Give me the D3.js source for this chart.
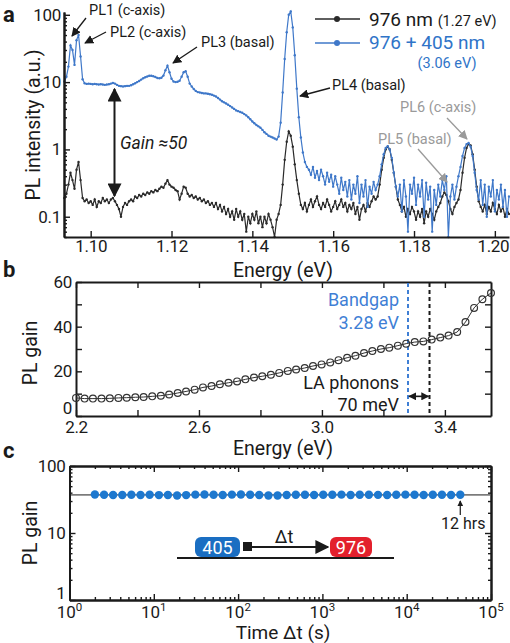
<!DOCTYPE html>
<html>
<head>
<meta charset="utf-8">
<script src="https://cdn.jsdelivr.net/npm/d3@7"></script>
<style>
body { margin: 0; background: #fff; }
svg { display: block; font-family: Roboto, "Noto Sans", sans-serif; }
.axis path, .axis line { stroke: #1a1a1a; }
.axis path { stroke-width: 2; }
.axis line { stroke-width: 1.4; }
.axis text { font-size: 17px; fill: #1a1a1a; font-family: Roboto, sans-serif; letter-spacing: -0.3px; }
</style>
</head>
<body>
<div id="fig"></div>
<script>
// ---- panel a: PL spectra ----
var energyA = [
1.0935,1.094,1.0945,1.095,1.0955,1.096,1.0965,1.097,1.0975,1.098,
1.0985,1.099,1.0995,1.1,1.1005,1.101,1.1015,1.102,1.1025,1.103,
1.1035,1.104,1.1045,1.105,1.1055,1.106,1.1065,1.107,1.1075,1.108,
1.1085,1.109,1.1095,1.11,1.1105,1.111,1.1115,1.112,1.1125,1.113,
1.1135,1.114,1.1145,1.115,1.1155,1.116,1.1165,1.117,1.1175,1.118,
1.1185,1.119,1.1195,1.12,1.1205,1.121,1.1215,1.122,1.1225,1.123,
1.1235,1.124,1.1245,1.125,1.1255,1.126,1.1265,1.127,1.1275,1.128,
1.1285,1.129,1.1295,1.13,1.1305,1.131,1.1315,1.132,1.1325,1.133,
1.1335,1.134,1.1345,1.135,1.1355,1.136,1.1365,1.137,1.1375,1.138,
1.1385,1.139,1.1395,1.14,1.1405,1.141,1.1415,1.142,1.1425,1.143,
1.1435,1.144,1.1445,1.145,1.1455,1.146,1.1465,1.147,1.1475,1.148,
1.1485,1.149,1.1495,1.15,1.1505,1.151,1.1515,1.152,1.1525,1.153,
1.1535,1.154,1.1545,1.155,1.1555,1.156,1.1565,1.157,1.1575,1.158,
1.1585,1.159,1.1595,1.16,1.1605,1.161,1.1615,1.162,1.1625,1.163,
1.1635,1.164,1.1645,1.165,1.1655,1.166,1.1665,1.167,1.1675,1.168,
1.1685,1.169,1.1695,1.17,1.1705,1.171,1.1715,1.172,1.1725,1.173,
1.1735,1.174,1.1745,1.175,1.1755,1.176,1.1765,1.177,1.1775,1.178,
1.1785,1.179,1.1795,1.18,1.1805,1.181,1.1815,1.182,1.1825,1.183,
1.1835,1.184,1.1845,1.185,1.1855,1.186,1.1865,1.187,1.1875,1.188,
1.1885,1.189,1.1895,1.19,1.1905,1.191,1.1915,1.192,1.1925,1.193,
1.1935,1.194,1.1945,1.195,1.1955,1.196,1.1965,1.197,1.1975,1.198,
1.1985,1.199,1.1995,1.2,1.2005,1.201,1.2015,1.202,1.2025,1.203,1.2035];

// 976 nm only
var pl976 = [
0.19,0.22,0.3,0.45,0.35,0.26,0.5,0.65,0.35,0.19,
0.17,0.18,0.16,0.17,0.15,0.18,0.14,0.17,0.16,0.19,
0.17,0.18,0.16,0.18,0.19,0.17,0.15,0.13,0.1,0.14,
0.16,0.15,0.17,0.18,0.17,0.2,0.19,0.21,0.2,0.22,
0.21,0.23,0.22,0.24,0.23,0.25,0.24,0.26,0.28,0.27,
0.31,0.35,0.3,0.28,0.27,0.25,0.24,0.18,0.22,0.28,
0.27,0.22,0.2,0.21,0.19,0.2,0.18,0.19,0.17,0.18,
0.16,0.17,0.15,0.16,0.14,0.16,0.13,0.15,0.12,0.14,
0.11,0.13,0.1,0.12,0.09,0.13,0.1,0.12,0.09,0.11,
0.06,0.1,0.08,0.11,0.09,0.12,0.08,0.1,0.07,0.1,
0.08,0.11,0.09,0.07,0.05,0.09,0.11,0.15,0.3,0.7,
1.3,1.85,1.6,1.1,0.6,0.35,0.22,0.15,0.13,0.16,
0.12,0.15,0.18,0.14,0.17,0.2,0.15,0.13,0.16,0.14,
0.18,0.15,0.12,0.14,0.17,0.13,0.15,0.18,0.14,0.16,
0.12,0.15,0.13,0.16,0.11,0.14,0.09,0.13,0.15,0.12,
0.16,0.14,0.17,0.2,0.18,0.2,0.3,0.5,0.75,1.0,
1.1,1.0,0.7,0.45,0.28,0.18,0.15,0.12,0.14,0.1,
0.13,0.11,0.14,0.12,0.09,0.12,0.1,0.13,0.08,0.12,
0.1,0.13,0.11,0.09,0.12,0.14,0.16,0.2,0.23,0.21,
0.17,0.13,0.11,0.14,0.16,0.18,0.25,0.45,0.75,1.05,
1.2,1.15,0.85,0.5,0.28,0.17,0.14,0.12,0.15,0.11,
0.14,0.12,0.16,0.13,0.11,0.15,0.12,0.14,0.1,0.13,0.11];

// 976 + 405 nm
var pl976405 = [
10.2,12,17,35,30,18,42,50,24,11,
9.6,9.4,9.5,9.4,9.3,9.4,9.3,9.2,9.3,9.2,
9.1,9.2,9.3,9.5,9.7,9.5,9.1,8.8,8.7,8.6,
8.7,8.8,8.8,9.0,9.3,9.6,10.0,10.4,10.9,11.4,
11.8,12.1,12.4,12.4,12.2,11.9,11.5,11.4,11.6,12.5,
15,17.5,14,11.2,10.2,10.0,10.1,10.5,12,14,
14.5,12,9.5,8.6,7.9,7.4,7.1,7.0,6.9,6.8,
6.8,6.7,6.6,6.5,6.3,6.1,5.8,5.5,5.2,5.0,
4.8,4.6,4.4,4.2,4.0,3.8,3.7,3.6,3.5,3.35,
3.2,3.0,2.8,2.6,2.45,2.3,2.2,2.1,1.95,1.8,
1.7,1.6,1.55,1.5,1.45,1.4,1.55,2.5,7,22,
55,100,112,65,25,8,3,1.5,0.9,0.65,
0.55,0.5,0.42,0.55,0.38,0.48,0.35,0.5,0.4,0.3,
0.45,0.33,0.42,0.28,0.4,0.3,0.22,0.38,0.25,0.33,
0.2,0.35,0.18,0.3,0.22,0.4,0.16,0.3,0.2,0.35,
0.14,0.28,0.22,0.33,0.25,0.3,0.4,0.6,0.85,1.05,
1.12,1.0,0.75,0.45,0.28,0.2,0.3,0.12,0.35,0.2,
0.06,0.3,0.22,0.38,0.15,0.3,0.2,0.35,0.1,0.32,
0.18,0.28,0.06,0.25,0.15,0.3,0.2,0.35,0.25,0.4,
0.05,0.2,0.3,0.18,0.28,0.4,0.55,0.8,1.05,1.2,
1.25,1.1,0.8,0.45,0.25,0.18,0.35,0.15,0.3,0.1,
0.28,0.2,0.35,0.12,0.25,0.18,0.3,0.14,0.25,0.1,0.2];

var ticksA = [1.10, 1.12, 1.14, 1.16, 1.18, 1.20];
var decadesA = [0.1, 1, 10, 100];

// ---- panel b: gain vs excitation energy ----
var energyB = [
2.200,2.228,2.255,2.283,2.310,2.338,2.365,2.393,2.420,2.448,
2.476,2.503,2.531,2.558,2.586,2.613,2.641,2.668,2.696,2.724,
2.751,2.779,2.806,2.834,2.861,2.889,2.916,2.944,2.971,2.999,
3.027,3.054,3.082,3.109,3.137,3.164,3.192,3.219,3.247,3.274,
3.302,3.330,3.357,3.385,3.412,3.440,3.467,3.495,3.522,3.550];
var gainB = [
8.1,7.8,7.8,7.8,7.9,8.1,8.2,8.4,8.5,8.8,
9.1,9.6,10.3,11.0,11.8,12.8,13.4,14.2,14.9,15.5,
16.4,17.2,17.8,18.5,19.3,20.2,20.8,21.5,22.4,23.1,
24.0,25.0,26.1,27.0,28.2,29.1,30.0,30.6,31.5,32.4,
33.1,33.4,34.2,35.1,36.0,37.6,42.1,48.4,52.3,55.1];
var ticksB = [2.2, 2.6, 3.0, 3.4];
var bandgap = 3.28;
var phononEnd = 3.35;

// ---- panel c: gain vs delay ----
var timeC = [
2.0,2.57,3.29,4.23,5.42,6.96,8.93,11.5,14.7,18.9,
24.2,31.1,39.9,51.2,65.7,84.4,108,139,178,229,
294,377,484,621,797,1023,1312,1684,2162,2774,
3559,4567,5862,7522,9652,12387,15896,20400,26180,33590,43200];
var gainC = [
37.5,37.2,37.0,37.0,37.2,37.0,37.3,36.8,37.0,36.2,
36.8,37.4,37.5,37.2,37.0,37.4,37.5,37.3,37.0,36.3,
36.2,37.0,37.3,37.2,37.0,37.3,37.2,37.4,37.0,37.2,
37.3,37.1,37.0,37.2,37.4,37.2,37.0,37.3,37.2,37.0,37.3];
var gainLevel = 37;
var decadesC = [1, 10, 100, 1000, 10000, 100000];

var blue = "#3f78c9";
var ink = "#1a1a1a";
var grey = "#9a9a9a";

var svg = d3.select("#fig").append("svg")
  .attr("width", 510)
  .attr("height", 643);

// arrow heads
var defs = svg.append("defs");
function arrowHead(id, color, size) {
  defs.append("marker")
    .attr("id", id)
    .attr("viewBox", "0 0 10 10")
    .attr("refX", 9).attr("refY", 5)
    .attr("markerWidth", size).attr("markerHeight", size)
    .attr("orient", "auto-start-reverse")
    .append("path")
    .attr("d", "M0,0L10,5L0,10z")
    .attr("fill", color);
}
arrowHead("ah", ink, 7);
arrowHead("ahg", grey, 7);
arrowHead("ahs", ink, 5);

function arrow(g, x1, y1, x2, y2, color, id, w) {
  return g.append("line")
    .attr("x1", x1).attr("y1", y1).attr("x2", x2).attr("y2", y2)
    .attr("stroke", color).attr("stroke-width", w || 1.3)
    .attr("marker-end", "url(#" + id + ")");
}

function label(g, x, y, txt, size, color, anchor) {
  return g.append("text")
    .attr("x", x).attr("y", y)
    .attr("font-size", size)
    .attr("fill", color || ink)
    .attr("text-anchor", anchor || "start")
    .text(txt);
}

// panel letters
[["a", 3, 22], ["b", 3, 277], ["c", 3, 458]].forEach(function(p) {
  svg.append("text").attr("x", p[1]).attr("y", p[2])
    .attr("font-size", 22).attr("font-weight", "bold").attr("fill", ink).text(p[0]);
});

// ================= panel a =================
var xA = d3.scaleLinear().domain([1.0934, 1.2035]).range([64, 509]);
var yA = d3.scaleLog().domain([0.05, 110]).range([237, 12]);
var gA = svg.append("g");

var lineA = d3.line()
  .x(function(d) { return xA(d[0]); })
  .y(function(d) { return yA(d[1]); });

var blackPts = energyA.map(function(e, i) { return [e, pl976[i]]; });
var bluePts = energyA.map(function(e, i) { return [e, pl976405[i]]; });

[[blackPts, "#2a2a2a"], [bluePts, blue]].forEach(function(s) {
  gA.append("path").datum(s[0])
    .attr("fill", "none").attr("stroke", s[1]).attr("stroke-width", 1.2)
    .attr("d", lineA);
  gA.selectAll(null).data(s[0]).enter().append("circle")
    .attr("cx", function(d) { return xA(d[0]); })
    .attr("cy", function(d) { return yA(d[1]); })
    .attr("r", 1.2).attr("fill", s[1]);
});

var minorA = yA.ticks().filter(function(v) { return decadesA.indexOf(v) < 0; });
gA.append("g").attr("class", "axis").attr("transform", "translate(64,0)")
  .call(d3.axisLeft(yA).tickValues(minorA).tickSize(-3).tickSizeOuter(0).tickFormat(""));
gA.append("g").attr("class", "axis").attr("transform", "translate(64,0)")
  .call(d3.axisLeft(yA).tickValues(decadesA).tickSize(-6).tickSizeOuter(0).tickPadding(3)
    .tickFormat(function(d) { return d < 1 ? "0.1" : d3.format("d")(d); }));
gA.append("g").attr("class", "axis").attr("transform", "translate(0,237)")
  .call(d3.axisBottom(xA).tickValues(ticksA).tickSize(-6).tickSizeOuter(0).tickPadding(3)
    .tickFormat(d3.format(".2f")))
  .selectAll("text").filter(function(d) { return d > 1.19; }).attr("dx", "-2px");

gA.append("text").attr("x", 283).attr("y", 277).attr("text-anchor", "middle")
  .attr("font-size", 19.5).attr("fill", ink).text("Energy (eV)");
gA.append("text").attr("transform", "translate(40,125) rotate(-90)").attr("text-anchor", "middle")
  .attr("font-size", 19.5).attr("fill", ink).text("PL intensity (a.u.)");

// legend
[[19, "#2a2a2a"], [43, blue]].forEach(function(l) {
  gA.append("line").attr("x1", 315).attr("x2", 360).attr("y1", l[0]).attr("y2", l[0])
    .attr("stroke", l[1]).attr("stroke-width", 1.3);
  gA.append("circle").attr("cx", 337).attr("cy", l[0]).attr("r", 3).attr("fill", l[1]);
});
var lg1 = label(gA, 369, 26, "976 nm ", 19, ink);
lg1.append("tspan").attr("font-size", 14.5).text("(1.27 eV)");
label(gA, 369, 49, "976 + 405 nm", 19, "#2f74c8");
label(gA, 447, 68, "(3.06 eV)", 14.5, "#2f74c8", "middle");

// peak annotations
label(gA, 89, 15, "PL1 (c-axis)", 14.5);
arrow(gA, 86, 18, 72, 36, ink, "ah");
label(gA, 110, 37, "PL2 (c-axis)", 14.5);
arrow(gA, 106, 32, 85, 43, ink, "ah");
label(gA, 201, 47, "PL3 (basal)", 14.5);
arrow(gA, 197, 47, 173, 63, ink, "ah");
label(gA, 332, 90, "PL4 (basal)", 14.5);
arrow(gA, 330, 88, 300, 96, ink, "ah");
label(gA, 400, 112, "PL6 (c-axis)", 14.5, grey);
arrow(gA, 447, 118, 467, 139, grey, "ahg");
label(gA, 378, 144, "PL5 (basal)", 14.5, grey);
arrow(gA, 418, 149, 447, 182, grey, "ahg");

// gain arrow
gA.append("line").attr("x1", 114.5).attr("x2", 114.5).attr("y1", 89).attr("y2", 196)
  .attr("stroke", ink).attr("stroke-width", 2)
  .attr("marker-start", "url(#ah)").attr("marker-end", "url(#ah)");
label(gA, 120, 149, "Gain \u224850", 17.5).attr("font-style", "italic");

// ================= panel b =================
var xB = d3.scaleLinear().domain([2.2, 3.55]).range([76, 491]);
var yB = d3.scaleLinear().domain([0, 60]).range([416, 282]);
var gB = svg.append("g");

var stepB = [2.2, 2.4, 2.6, 2.8, 3.0, 3.2, 3.4];
var yStepB = [10, 20, 30, 40, 50];
gB.append("g").attr("class", "axis").attr("transform", "translate(0,416)")
  .call(d3.axisBottom(xB).tickValues(stepB).tickSize(-6).tickSizeOuter(0).tickPadding(5)
    .tickFormat(function(d) { return ticksB.indexOf(d) >= 0 ? d3.format(".1f")(d) : ""; }));
gB.append("g").attr("class", "axis").attr("transform", "translate(0,282)")
  .call(d3.axisTop(xB).tickValues(stepB).tickSize(-6).tickSizeOuter(0).tickFormat(""));
gB.append("g").attr("class", "axis").attr("transform", "translate(76,0)")
  .call(d3.axisLeft(yB).tickValues([0, 10, 20, 30, 40, 50, 60]).tickSize(-6).tickSizeOuter(0).tickPadding(4)
    .tickFormat(function(d) { return d % 20 === 0 ? d : ""; }))
  .selectAll("text").filter(function(d) { return d === 0; }).attr("dy", "-0.15em");
gB.append("g").attr("class", "axis").attr("transform", "translate(491,0)")
  .call(d3.axisRight(yB).tickValues(yStepB).tickSize(-6).tickSizeOuter(0).tickFormat(""));

// dashed markers
[[bandgap, "#3f7fd5"], [phononEnd, ink]].forEach(function(m) {
  gB.append("line").attr("x1", xB(m[0])).attr("x2", xB(m[0])).attr("y1", 283).attr("y2", 415)
    .attr("stroke", m[1]).attr("stroke-width", 2).attr("stroke-dasharray", "4,3");
});
gB.append("line")
  .attr("x1", xB(bandgap) + 1).attr("x2", xB(phononEnd) - 1)
  .attr("y1", yB(8.8)).attr("y2", yB(8.8))
  .attr("stroke", ink).attr("stroke-width", 1.6)
  .attr("marker-start", "url(#ahs)").attr("marker-end", "url(#ahs)");

gB.append("path").datum(energyB.map(function(e, i) { return [e, gainB[i]]; }))
  .attr("fill", "none").attr("stroke", "#333").attr("stroke-width", 1)
  .attr("d", d3.line().x(function(d) { return xB(d[0]); }).y(function(d) { return yB(d[1]); }));
gB.selectAll(null).data(energyB).enter().append("circle")
  .attr("cx", function(d) { return xB(d); })
  .attr("cy", function(d, i) { return yB(gainB[i]); })
  .attr("r", 3.4).attr("fill", "none").attr("stroke", "#333").attr("stroke-width", 1.2);

label(gB, 399, 306, "Bandgap", 18, "#3f7fd5", "end");
label(gB, 399, 329, "3.28 eV", 18, "#3f7fd5", "end");
label(gB, 399, 389, "LA phonons", 18, ink, "end");
label(gB, 399, 411, "70 meV", 18, ink, "end");

gB.append("text").attr("x", 283).attr("y", 455).attr("text-anchor", "middle")
  .attr("font-size", 19.5).attr("fill", ink).text("Energy (eV)");
gB.append("text").attr("transform", "translate(37,353) rotate(-90)").attr("text-anchor", "middle")
  .attr("font-size", 19.5).attr("fill", ink).text("PL gain");

// ================= panel c =================
var xC = d3.scaleLog().domain([1, 1e5]).range([69.5, 491]);
var yC = d3.scaleLog().domain([1, 100]).range([600, 466]);
var gC = svg.append("g");

var minorXC = xC.ticks().filter(function(v) { return decadesC.indexOf(v) < 0; });
var minorYC = yC.ticks().filter(function(v) { return [1, 10, 100].indexOf(v) < 0; });

[["axisBottom", 600], ["axisTop", 466]].forEach(function(a) {
  gC.append("g").attr("class", "axis").attr("transform", "translate(0," + a[1] + ")")
    .call(d3[a[0]](xC).tickValues(minorXC).tickSize(-3).tickSizeOuter(0).tickFormat(""));
  gC.append("g").attr("class", "axis").attr("transform", "translate(0," + a[1] + ")")
    .call(d3[a[0]](xC).tickValues(decadesC).tickSize(-6).tickSizeOuter(0).tickFormat(""));
});
[["axisLeft", 69.5], ["axisRight", 491]].forEach(function(a) {
  gC.append("g").attr("class", "axis").attr("transform", "translate(" + a[1] + ",0)")
    .call(d3[a[0]](yC).tickValues(minorYC).tickSize(-3).tickSizeOuter(0).tickFormat(""));
  gC.append("g").attr("class", "axis").attr("transform", "translate(" + a[1] + ",0)")
    .call(d3[a[0]](yC).tickValues([1, 10, 100]).tickSize(-6).tickSizeOuter(0).tickPadding(4)
      .tickFormat(a[0] === "axisLeft" ? d3.format("d") : ""))
    .selectAll("text").filter(function(d) { return d === 1; }).attr("dy", "-0.1em");
});

// 10^n labels
var xl = gC.selectAll(null).data(decadesC).enter().append("text")
  .attr("x", function(d) { return xC(d); })
  .attr("y", 618)
  .attr("text-anchor", "middle")
  .attr("font-size", 17).attr("fill", ink);
xl.append("tspan").text("10");
xl.append("tspan").attr("dy", -7).attr("font-size", 11.5)
  .text(function(d) { return Math.round(Math.log10(d)); });

gC.append("text").attr("x", 283).attr("y", 639).attr("text-anchor", "middle")
  .attr("font-size", 19).attr("fill", ink).text("Time \u0394t (s)");
gC.append("text").attr("transform", "translate(37,533) rotate(-90)").attr("text-anchor", "middle")
  .attr("font-size", 19.5).attr("fill", ink).text("PL gain");

gC.append("line").attr("x1", 70).attr("x2", 490).attr("y1", yC(gainLevel)).attr("y2", yC(gainLevel))
  .attr("stroke", ink).attr("stroke-width", 1);
gC.selectAll(null).data(timeC).enter().append("circle")
  .attr("cx", function(d) { return xC(d); })
  .attr("cy", function(d, i) { return yC(gainC[i]); })
  .attr("r", 4.2).attr("fill", "#1d78cf");

var lastT = timeC[timeC.length - 1];
arrow(gC, xC(lastT), 515, xC(lastT), yC(gainLevel) + 6, ink, "ahs", 1.2);
label(gC, xC(lastT) + 3, 529, "12 hrs", 16, ink, "middle");

// pulse sequence sketch
gC.append("line").attr("x1", 177).attr("x2", 394).attr("y1", 558).attr("y2", 558)
  .attr("stroke", ink).attr("stroke-width", 2);
gC.append("rect").attr("x", 195).attr("y", 537).attr("width", 45).attr("height", 20).attr("rx", 6)
  .attr("fill", "#1a6ec2");
label(gC, 217.5, 554, "405", 18, "#fff", "middle");
gC.append("rect").attr("x", 243).attr("y", 542).attr("width", 9).attr("height", 9).attr("fill", ink);
arrow(gC, 252, 547, 328, 547, ink, "ah", 2);
gC.append("rect").attr("x", 330).attr("y", 537).attr("width", 42).attr("height", 20).attr("rx", 6)
  .attr("fill", "#e3202c");
label(gC, 351, 554, "976", 18, "#fff", "middle");
label(gC, 284, 543, "\u0394t", 18, ink, "middle");
</script>
</body>
</html>
